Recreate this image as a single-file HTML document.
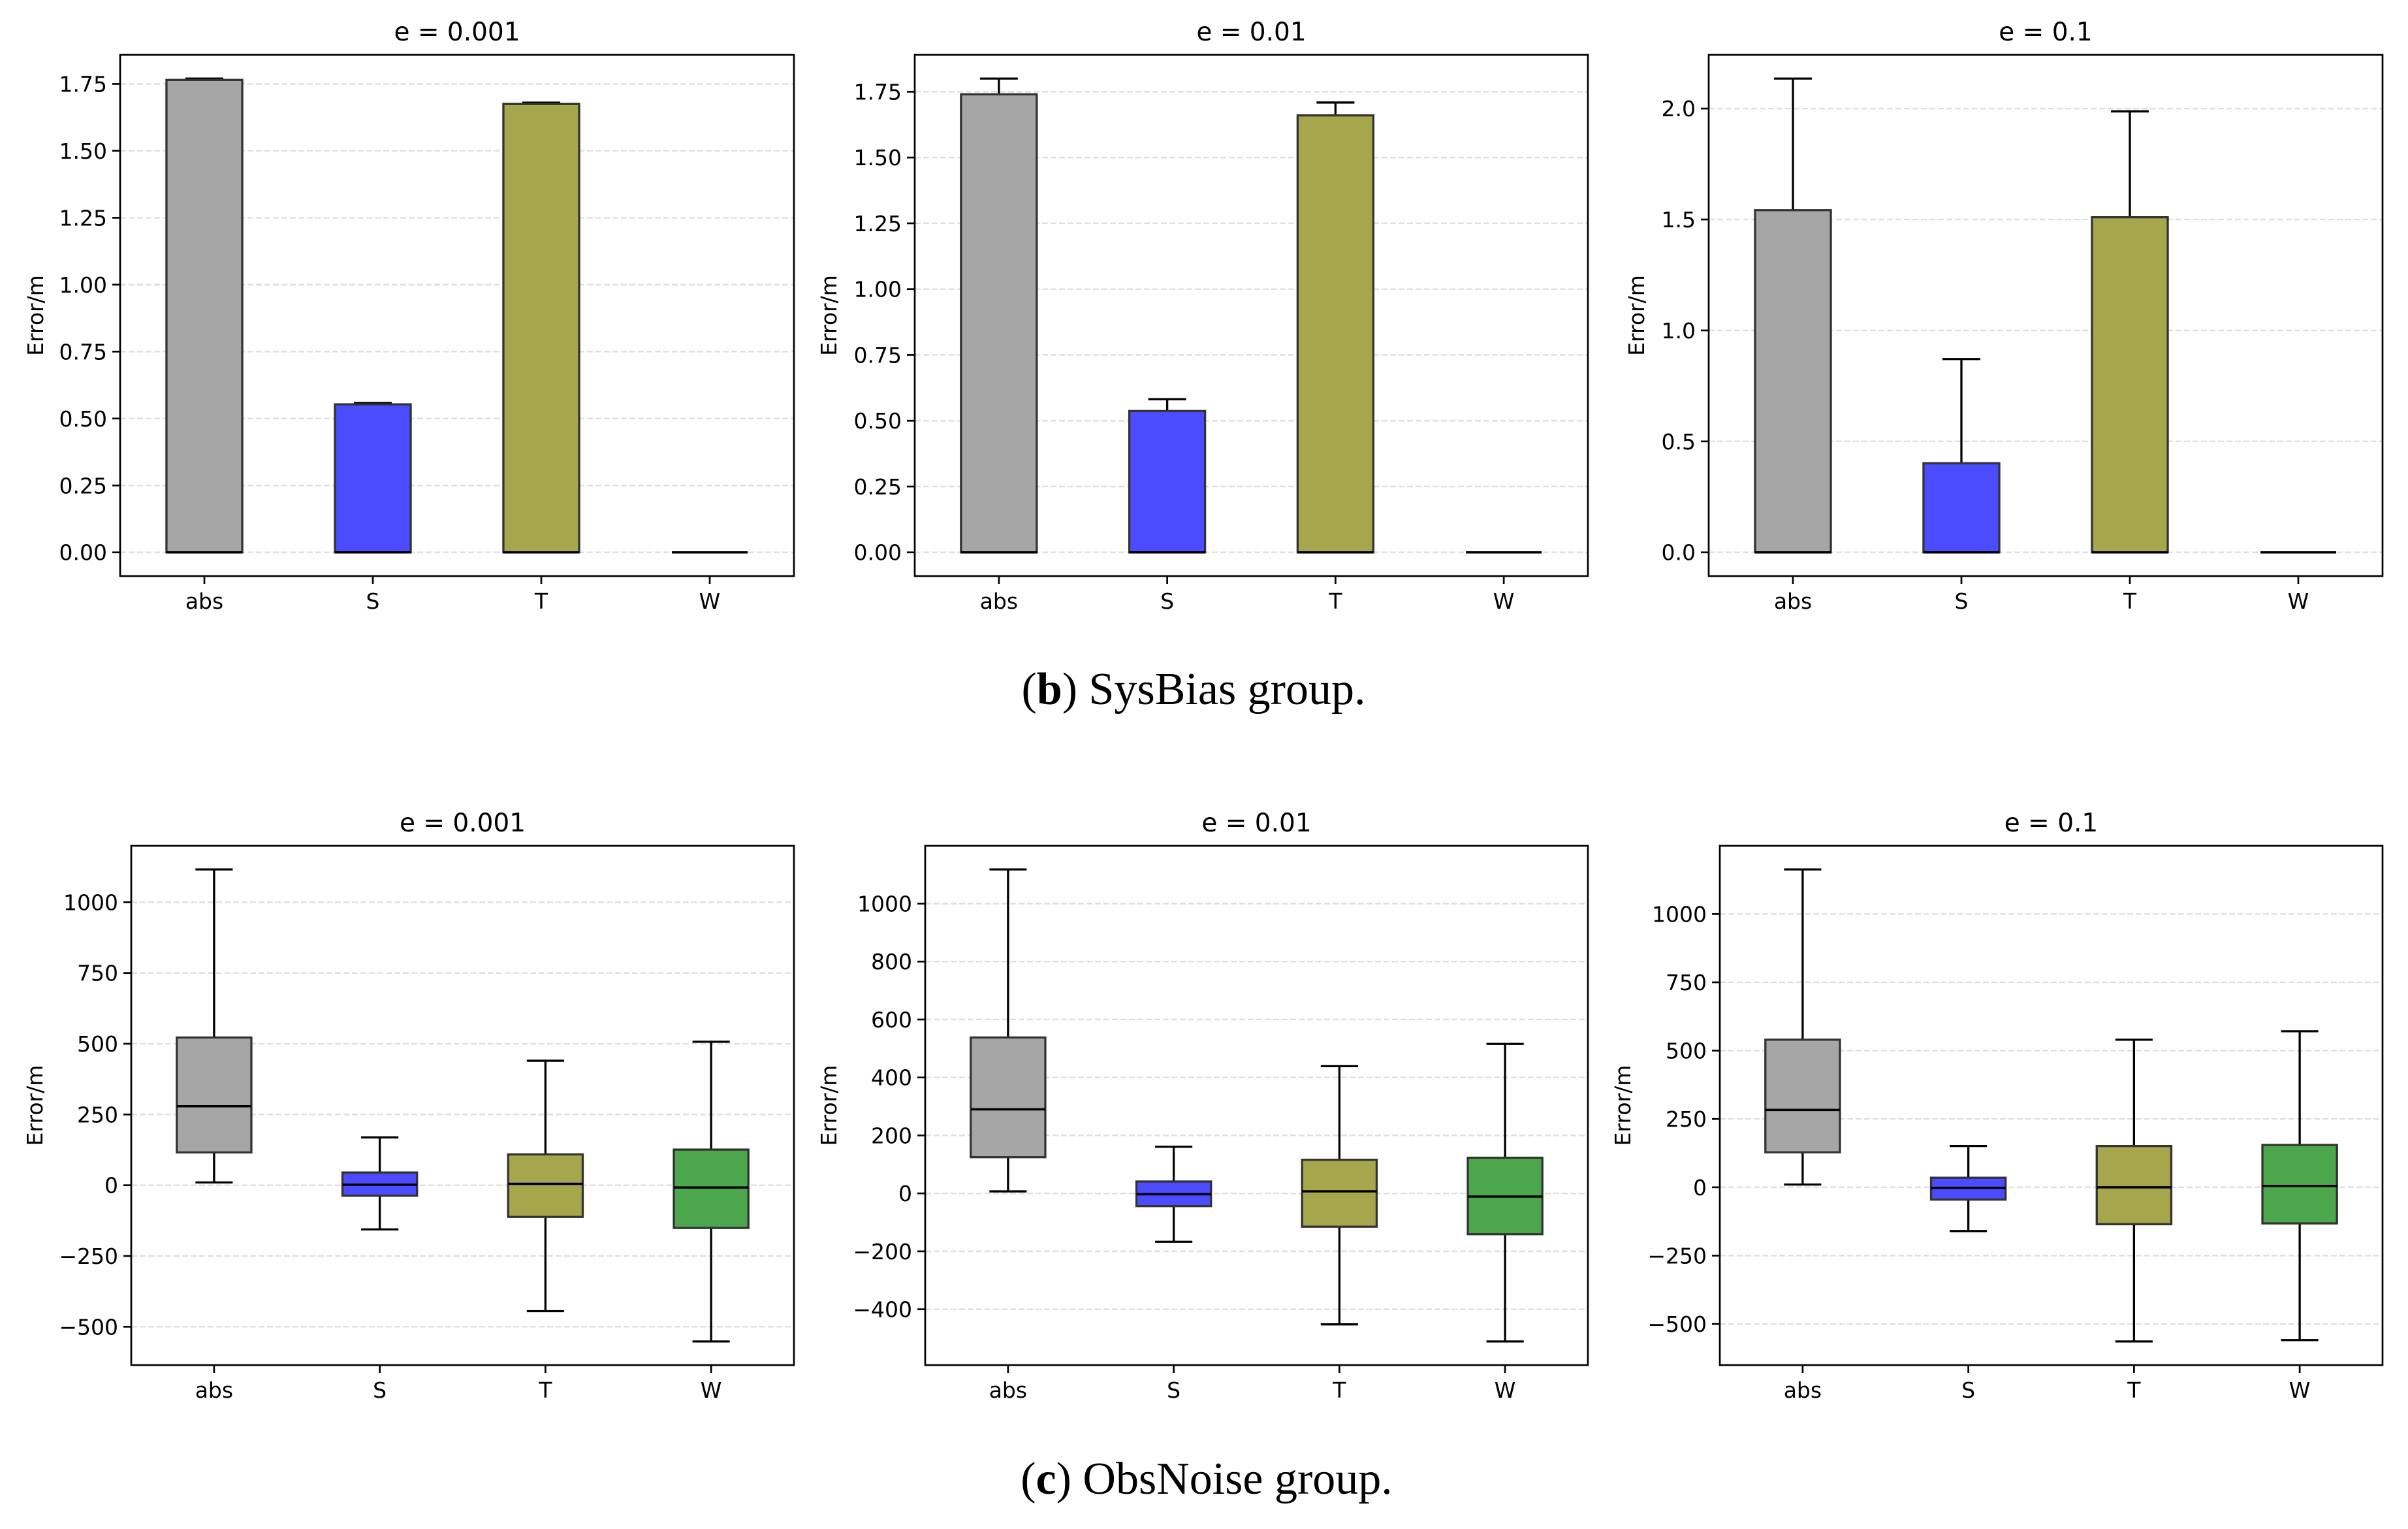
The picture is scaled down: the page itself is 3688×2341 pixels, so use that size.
<!DOCTYPE html>
<html><head><meta charset="utf-8">
<style>
html,body{margin:0;padding:0;background:#fff;}
svg{display:block;}
text{font-family:"DejaVu Sans","Liberation Sans",sans-serif;fill:#000;}
.cap{font-family:"Liberation Serif",serif;font-size:70px;}
</style></head>
<body>
<svg id="fig" width="3688" height="2341" viewBox="0 0 3688 2341" xmlns="http://www.w3.org/2000/svg">
<rect width="3688" height="2341" fill="#fff"/>
<text class="cap" x="1828" y="1078" text-anchor="middle">(<tspan font-weight="bold">b</tspan>) SysBias group.</text>
<text class="cap" x="1848" y="2287" text-anchor="middle">(<tspan font-weight="bold">c</tspan>) ObsNoise group.</text>
</svg>
<script>
const categories = ["abs","S","T","W"];
const colors = ["#a6a6a6","#4b4bff","#a6a64d","#4ca64c"];
const titles = ["e = 0.001","e = 0.01","e = 0.1"];
// SysBias: [min, q1, median, q3, max]
const sys001 = [[0,0,0,1.765,1.77],[0,0,0,0.553,0.558],[0,0,0,1.675,1.68],[0,0,0,0,0]];
const sys01  = [[0,0,0,1.74,1.80],[0,0,0,0.537,0.582],[0,0,0,1.66,1.709],[0,0,0,0,0]];
const sys1   = [[0,0,0,1.542,2.135],[0,0,0,0.402,0.871],[0,0,0,1.51,1.987],[0,0,0,0,0]];
// ObsNoise
const obs001 = [[10,116,279,522,1116],[-156,-37,2,45,169],[-445,-112,5,109,440],[-552,-151,-8,126,507]];
const obs01  = [[7,125,290,538,1118],[-167,-44,-3,41,161],[-452,-115,7,116,439],[-511,-141,-11,123,516]];
const obs1   = [[10,128,283,540,1163],[-160,-45,-2,35,151],[-564,-135,0,151,540],[-559,-132,5,155,571]];
const ticksSys001 = [0,0.25,0.5,0.75,1,1.25,1.5,1.75];
const ticksSys01 = [0,0.25,0.5,0.75,1,1.25,1.5,1.75];
const ticksSys1 = [0,0.5,1,1.5,2];
const ticksObs001 = [-500,-250,0,250,500,750,1000];
const ticksObs01 = [-400,-200,0,200,400,600,800,1000];
const ticksObs1 = [-500,-250,0,250,500,750,1000];

const NS="http://www.w3.org/2000/svg";
const svg=document.getElementById('fig');
function mk(tag,attrs,parent){const e=document.createElementNS(NS,tag);for(const k in attrs)e.setAttribute(k,attrs[k]);(parent||svg).appendChild(e);return e;}
function fmt(v,dec){let s=v.toFixed(dec);if(v<0)s='\u2212'+s.slice(1);return s;}

const panels=[
 {data:sys001,ticks:ticksSys001,dec:2,L:184,R:1216,T:84,B:882,title:0,ylx:55,name:'sysbias-e0001'},
 {data:sys01,ticks:ticksSys01,dec:2,L:1401,R:2432,T:84,B:882,title:1,ylx:1270,name:'sysbias-e001'},
 {data:sys1,ticks:ticksSys1,dec:1,L:2617,R:3649,T:84,B:882,title:2,ylx:2507,name:'sysbias-e01'},
 {data:obs001,ticks:ticksObs001,dec:0,L:201,R:1216,T:1295,B:2090,title:0,ylx:54,name:'obsnoise-e0001'},
 {data:obs01,ticks:ticksObs01,dec:0,L:1417,R:2432,T:1295,B:2090,title:1,ylx:1270,name:'obsnoise-e001'},
 {data:obs1,ticks:ticksObs1,dec:0,L:2634,R:3649,T:1295,B:2090,title:2,ylx:2486,name:'obsnoise-e01'}
];

panels.forEach(p=>{
  const g=mk('g',{});
  
  
  let mn=Infinity,mx=-Infinity;
  p.data.forEach(d=>{mn=Math.min(mn,d[0]);mx=Math.max(mx,d[4]);});
  const pad=(mx-mn)*0.05, y0=mn-pad, y1=mx+pad;
  const ys=v=>p.B-(v-y0)/(y1-y0)*(p.B-p.T);
  const xs=i=>p.L+(i+0.5)/4*(p.R-p.L);
  const unit=(p.R-p.L)/4;
  p.ticks.forEach(t=>{
    const y=ys(t);
    const gl=mk('line',{x1:p.L,x2:p.R,y1:y,y2:y,stroke:'#b0b0b0','stroke-opacity':0.4,'stroke-width':2.4,'stroke-dasharray':'9,4'},g);
    
    
    mk('line',{x1:p.L-12,x2:p.L,y1:y,y2:y,stroke:'#000','stroke-width':2.7},g);
    const tx=mk('text',{x:p.L-20,y:y+12,'text-anchor':'end','font-size':33},g);
    tx.textContent=fmt(t,p.dec);
    
    
  });
  p.data.forEach((d,i)=>{
    const cx=xs(i), hw=unit*0.225, cw=unit*0.1125;
    const bg=mk('g',{},g);
    
    
    mk('line',{x1:cx,x2:cx,y1:ys(d[3]),y2:ys(d[4]),stroke:'#000','stroke-width':3.3},bg);
    mk('line',{x1:cx,x2:cx,y1:ys(d[1]),y2:ys(d[0]),stroke:'#000','stroke-width':3.3},bg);
    mk('line',{x1:cx-cw,x2:cx+cw,y1:ys(d[4]),y2:ys(d[4]),stroke:'#000','stroke-width':3.3},bg);
    mk('line',{x1:cx-cw,x2:cx+cw,y1:ys(d[0]),y2:ys(d[0]),stroke:'#000','stroke-width':3.3},bg);
    mk('rect',{x:cx-hw,y:ys(d[3]),width:2*hw,height:Math.max(0,ys(d[1])-ys(d[3])),fill:colors[i],stroke:'#333','stroke-width':3.3},bg);
    mk('line',{x1:cx-hw,x2:cx+hw,y1:ys(d[2]),y2:ys(d[2]),stroke:'#000','stroke-width':3.5},bg);
    mk('line',{x1:cx,x2:cx,y1:p.B,y2:p.B+12,stroke:'#000','stroke-width':2.7},g);
    const xl=mk('text',{x:cx,y:p.B+50,'text-anchor':'middle','font-size':33},g);
    xl.textContent=categories[i];
    
    
  });
  const fr=mk('rect',{x:p.L,y:p.T,width:p.R-p.L,height:p.B-p.T,fill:'none',stroke:'#000','stroke-width':2.7},g);
  
  
  const tt=mk('text',{x:(p.L+p.R)/2,y:p.T-22,'text-anchor':'middle','font-size':39},g);
  tt.textContent=titles[p.title];
  
  
  const cy=(p.T+p.B)/2;
  const yl=mk('text',{x:p.ylx+11,y:cy,'text-anchor':'middle','font-size':33,transform:`rotate(-90 ${p.ylx+11} ${cy})`},g);
  yl.textContent='Error/m';
  
  
});
</script>
</body></html>
